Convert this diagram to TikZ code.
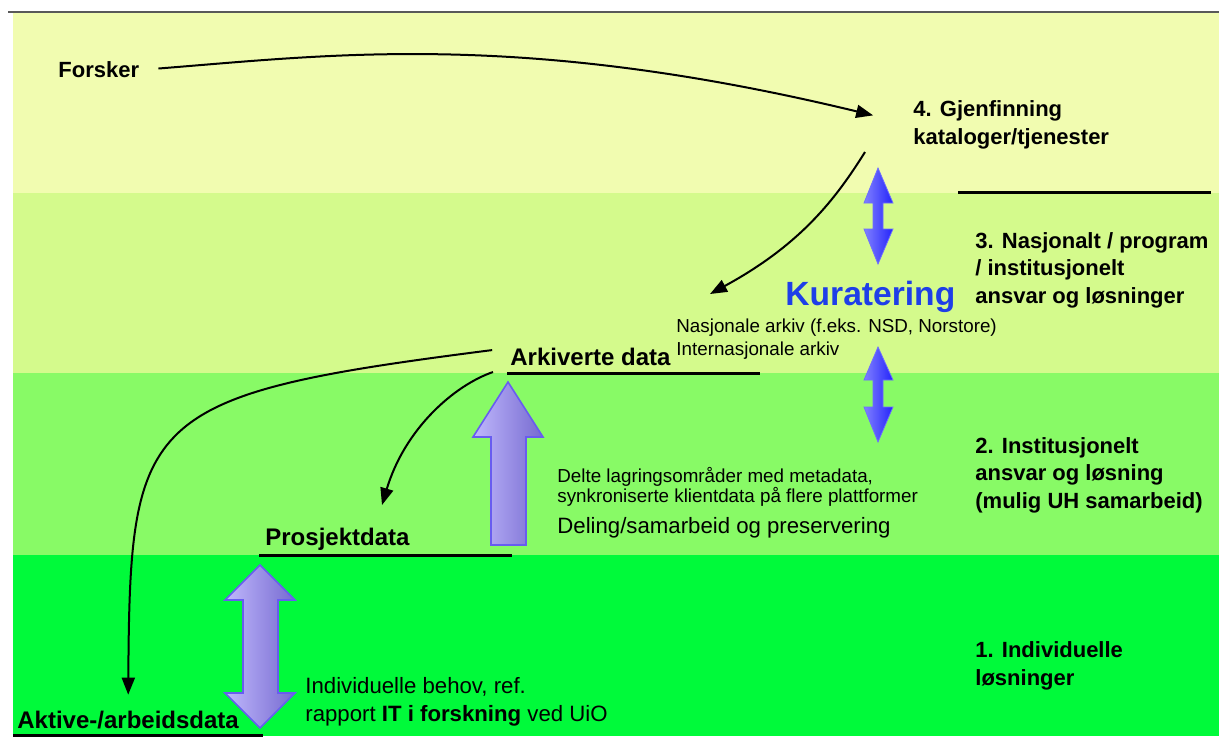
\documentclass[tikz,border=0pt]{standalone}
\usepackage{fontspec}
\setmainfont{Liberation Sans}
\usetikzlibrary{arrows.meta}

\definecolor{bandtop}{RGB}{241,252,176}
\definecolor{bandnat}{RGB}{212,250,140}
\definecolor{bandinst}{RGB}{136,250,102}
\definecolor{bandind}{RGB}{0,250,58}
\definecolor{kurblue}{RGB}{30,62,232}
\definecolor{lilaedge}{RGB}{104,92,240}
\definecolor{lilalight}{RGB}{192,184,252}
\definecolor{liladark}{RGB}{118,106,208}
\definecolor{blueedge}{RGB}{110,110,255}
\definecolor{bluelight}{RGB}{128,128,255}
\definecolor{bluedark}{RGB}{36,36,250}

\begin{document}
\begin{tikzpicture}[x=0.5pt,y=-0.5pt,>={Triangle[length=8.5pt,width=6.5pt]},
    link/.style={->,line width=1pt},
    bandlabel/.style={anchor=west,inner sep=0pt,align=left,
                      font=\bfseries\fontsize{11}{13.8}\selectfont},
    datalabel/.style={anchor=west,inner sep=0pt,
                      font=\bfseries\fontsize{12}{14}\selectfont},
    smalltext/.style={anchor=west,inner sep=0pt,align=left,
                      font=\fontsize{9.4}{11.5}\selectfont},
    dataline/.style={line width=1.5pt},
    fatarrow/.style={draw=lilaedge,line width=0.8pt,
                     left color=lilalight,right color=liladark},
    kurarrow/.style={draw=blueedge,line width=0.4pt,
                     left color=bluelight,right color=bluedark}]
  \useasboundingbox (0,0) rectangle (1219,736);

  % bands
  \fill[bandtop]  (13,13)  rectangle (1219,193);
  \fill[bandnat]  (13,193) rectangle (1219,373);
  \fill[bandinst] (13,373) rectangle (1219,555);
  \fill[bandind]  (13,555) rectangle (1219,736);
  \draw[line width=1pt,black!65] (8,12) -- (1219,12);

  % level texts
  \node[bandlabel] (forsker) at (58,70)   {Forsker};
  \node[bandlabel] (gjen)    at (913,125) {4. Gjenfinning\\kataloger/tjenester};
  \node[bandlabel] (nasj)    at (975,270) {3. Nasjonalt / program\\/ institusjonelt\\ansvar og løsninger};
  \node[bandlabel] (inst)    at (975,475) {2. Institusjonelt\\ansvar og løsning\\(mulig UH samarbeid)};
  \node[bandlabel] (indiv)   at (975,666) {1. Individuelle\\løsninger};

  \node[anchor=west,inner sep=0pt,text=kurblue,
        font=\bfseries\fontsize{16.8}{20}\selectfont] (kur) at (785,297) {Kuratering};
  \node[smalltext] (arkiv) at (676,339) {Nasjonale arkiv (f.eks. NSD, Norstore)\\Internasjonale arkiv};
  \node[smalltext,font=\fontsize{9.4}{10}\selectfont] (delte) at (557,487)
       {Delte lagringsområder med metadata,\\synkroniserte klientdata på flere plattformer};
  \node[smalltext,font=\fontsize{11.1}{13}\selectfont] (deling) at (557,528)
       {Deling/samarbeid og preservering};
  \node[smalltext,font=\fontsize{11.1}{14}\selectfont] (behov) at (305,702)
       {Individuelle behov, ref.\\rapport \textbf{IT i forskning} ved UiO};

  % data stages
  \node[datalabel] (ark)   at (510,357) {Arkiverte data};
  \node[datalabel] (prosj) at (265,539) {Prosjektdata};
  \node[datalabel] (aktiv) at (17,720)  {Aktive-/arbeidsdata};

  \draw[dataline] (958,192) -- (1211,192);
  \draw[dataline] (507,373) -- (760,373);
  \draw[dataline] (259,555) -- (512,555);
  \draw[dataline] (13,735)  -- (263,735);

  % block arrows
  \draw[fatarrow] (508,382) -- (543,437) -- (526,437) -- (526,545)
        -- (491,545) -- (491,437) -- (473,437) -- cycle;
  \draw[fatarrow] (260,565) -- (295,600) -- (278,600) -- (278,693) -- (295,693)
        -- (260,728) -- (225,693) -- (243,693) -- (243,600) -- (225,600) -- cycle;
  \foreach \t/\a/\b/\e in {168/203/229/264, 347/380/407/442}
    \draw[kurarrow] (878,\t) -- (893,\a) -- (883,\a) -- (883,\b) -- (893,\b)
        -- (878,\e) -- (864,\b) -- (873,\b) -- (873,\a) -- (864,\a) -- cycle;

  % flow
  \coordinate (g-out) at (865,152);
  \coordinate (a-in)  at (710,294);
  \coordinate (p-in)  at (382,505);
  \draw[link,shorten <=9.5pt,shorten >=20.5pt] (forsker.east)
        .. controls (330,55) and (520,30) .. (gjen.west);
  \draw[link] (g-out) .. controls (835,200) and (800,245) .. (a-in);
  \draw[link,shorten <=9pt,shorten >=8pt] (ark.north west)
        .. controls (140,395) and (130,415) .. (aktiv.north);
  \draw[link,shorten <=9pt] (ark.south west)
        .. controls (455,385) and (405,428) .. (p-in);
\end{tikzpicture}
\end{document}
